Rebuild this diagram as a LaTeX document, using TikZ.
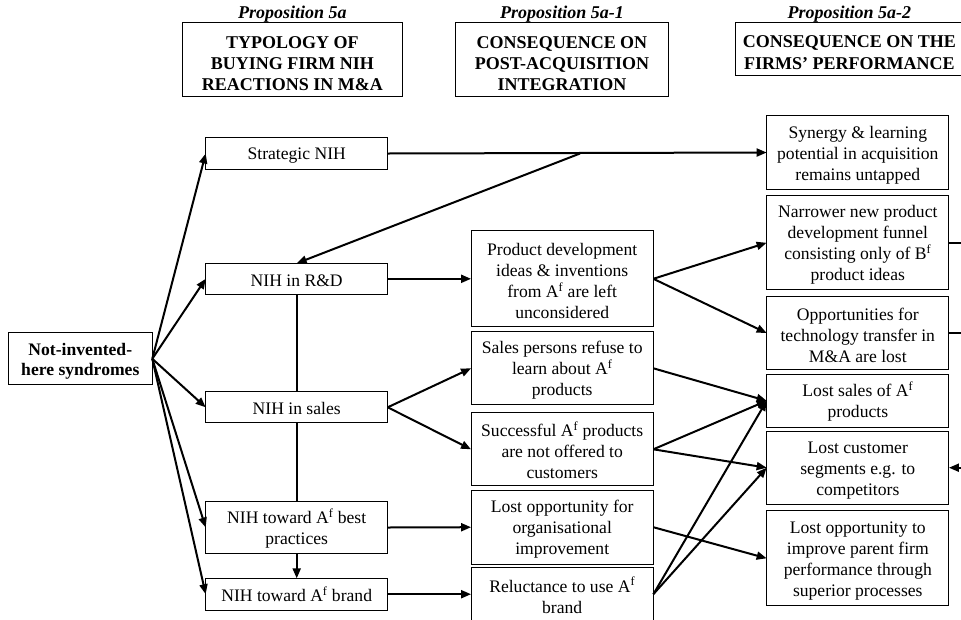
\documentclass[tikz,border=0pt]{standalone}
\usepackage{fontspec}
\setmainfont{Liberation Serif}
\usetikzlibrary{arrows.meta}
\newcommand{\Af}{A\textsuperscript{f}}
\newcommand{\Bf}{B\textsuperscript{f}}
% invisible struts that set the first line a little lower in its box
\newcommand{\dn}{\rule{0pt}{17pt}}
\newcommand{\hdn}{\rule{0pt}{20pt}}
\begin{document}
\begin{tikzpicture}[x=1pt,y=-1pt,
  box/.style={draw, line width=1pt, inner sep=0pt, outer sep=0pt, align=center,
              font=\fontsize{17.6}{21}\selectfont},
  hdr/.style={box, font=\fontsize{18}{21.3}\selectfont\bfseries},
  prop/.style={font=\fontsize{18}{21}\selectfont\bfseries\itshape, anchor=base, inner sep=0pt},
  arr/.style={line width=2pt, -{Triangle[length=10pt,width=8pt]}},
  link/.style={line width=2pt},
]
\useasboundingbox (0,0) rectangle (961,619);

% column headings
\node[prop] (p1) at (292.3,18.5) {Proposition 5a};
\node[prop] (p2) at (562,18.5) {Proposition 5a-1};
\node[prop] (p3) at (849.3,18.5) {Proposition 5a-2};
\node[hdr, minimum width=220pt, minimum height=74.4pt] (h1) at (292.3,59.5)
  {\hdn TYPOLOGY OF\\BUYING FIRM NIH\\REACTIONS IN M\&A};
\node[hdr, minimum width=212.6pt, minimum height=74.4pt] (h2) at (562,59.5)
  {\hdn CONSEQUENCE ON\\POST-ACQUISITION\\INTEGRATION};
\node[hdr, minimum width=227.3pt, minimum height=52.7pt] (h3) at (849.3,48.7)
  {\hdn CONSEQUENCE ON THE\\FIRMS’ PERFORMANCE};

% root
\node[box, font=\fontsize{17.6}{20.7}\selectfont\bfseries, minimum width=144pt, minimum height=52.3pt]
  (nih) at (80.3,358.8) {\dn Not-invented-\\here syndromes};

% typology column
\node[box, minimum width=182pt, minimum height=31.6pt] (strat) at (296.7,153.5) {\rule{0pt}{15pt}Strategic NIH};
\node[box, minimum width=182pt, minimum height=31pt]   (rd)    at (296.7,278.8) {\rule{0pt}{15pt}NIH in R\&D};
\node[box, minimum width=182pt, minimum height=31.3pt] (sales) at (296.7,407.3) {\rule{0pt}{15pt}NIH in sales};
\node[box, minimum width=182pt, minimum height=51.6pt] (best)  at (296.7,527.5) {\dn NIH toward \Af{} best\\practices};
\node[box, minimum width=182pt, minimum height=31.7pt] (brand) at (296.7,594.2) {\rule{0pt}{15pt}NIH toward \Af{} brand};

% integration column
\node[box, minimum width=182.3pt, minimum height=95.7pt] (pdev)  at (562.2,278.8)
  {\dn Product development\\ideas \& inventions\\from \Af{} are left\\unconsidered};
\node[box, minimum width=182.3pt, minimum height=73.3pt] (spers) at (562.2,368.3)
  {\dn Sales persons refuse to\\learn about \Af\\products};
\node[box, minimum width=182.3pt, minimum height=73.3pt] (succ)  at (562.2,449.3)
  {\dn Successful \Af{} products\\are not offered to\\customers};
\node[box, minimum width=182.3pt, minimum height=73.7pt] (lorg)  at (562.2,527.2)
  {\dn Lost opportunity for\\organisational\\improvement};
\node[box, minimum width=182.3pt, minimum height=53pt]   (relu)  at (562.2,594.2)
  {\dn Reluctance to use \Af\\brand};

% performance column
\node[box, minimum width=182.3pt, minimum height=73.6pt] (syn)    at (857.8,152.5)
  {\dn Synergy \& learning\\potential in acquisition\\remains untapped};
\node[box, minimum width=182.3pt, minimum height=94.3pt] (narrow) at (857.8,242.8)
  {\dn Narrower new product\\development funnel\\consisting only of \Bf\\product ideas};
\node[box, minimum width=182.3pt, minimum height=72.6pt] (opps)   at (857.8,333)
  {\dn Opportunities for\\technology transfer in\\M\&A are lost};
\node[box, minimum width=182.3pt, minimum height=53pt]   (lsales) at (857.8,400.8)
  {\dn Lost sales of \Af\\products};
\node[box, minimum width=182.3pt, minimum height=73.3pt] (lcust)  at (857.8,467.7)
  {\dn Lost customer\\segments e.g. to\\competitors};
\node[box, minimum width=182.3pt, minimum height=94.7pt] (limp)   at (857.8,558.3)
  {\dn Lost opportunity to\\improve parent firm\\performance through\\superior processes};

% loose ends running off to the right
\coordinate (br) at (580,153.5);
\coordinate (out1) at (975,242.8);
\coordinate (out2) at (975,333);
\coordinate (in1) at (975,467.7);

% root fan-out
\foreach \t in {strat,rd,sales,best,brand}
  \draw[arr] (nih.east) -- (\t.west);

% vertical chain through the typology column
\draw[link] (rd.south) -- (sales.north);
\draw[link] (sales.south) -- (best.north);
\draw[arr] (best.south) -- (brand.north);

% strategic NIH
\draw[arr] (strat.east) -- (syn.west);
\draw[arr] (br) -- (rd.north);

% typology -> integration
\draw[arr] (rd.east) -- (pdev.west);
\draw[arr] (sales.east) -- (spers.west);
\draw[arr] (sales.east) -- (succ.west);
\draw[arr] (best.east) -- (lorg.west);
\draw[arr] (brand.east) -- (relu.west);

% integration -> performance
\draw[arr] (pdev.east) -- (narrow.west);
\draw[arr] (pdev.east) -- (opps.west);
\draw[arr] (spers.east) -- (lsales.west);
\draw[arr] (succ.east) -- (lsales.west);
\draw[arr] (succ.east) -- (lcust.west);
\draw[arr] (lorg.east) -- (limp.west);
\draw[arr] (relu.east) -- (lsales.west);
\draw[arr] (relu.east) -- (lcust.west);

% stubs at the right edge
\draw[link] (narrow.east) -- (out1);
\draw[link] (opps.east) -- (out2);
\draw[arr] (in1) -- (lcust.east);
\end{tikzpicture}
\end{document}
